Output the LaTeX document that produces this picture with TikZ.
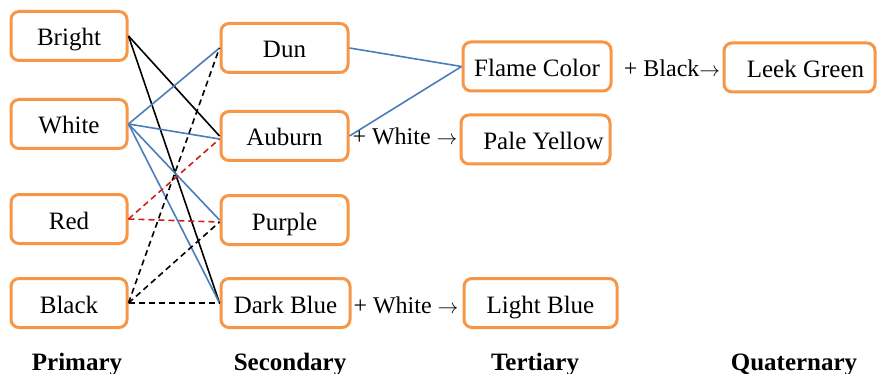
\documentclass[tikz,border=0pt]{standalone}
\usepackage{fontspec}
\setmainfont{Liberation Serif}
\definecolor{boxorange}{RGB}{247,150,70}
\definecolor{mixblue}{RGB}{74,126,187}
\definecolor{mixred}{RGB}{200,35,25}
\newcommand{\mixarrow}{{\fontsize{20}{22}\selectfont\ensuremath{\rightarrow}}}
\tikzset{
  colbox/.style={draw=boxorange, line width=3pt, rounded corners=8pt, fill=white,
    inner sep=0pt, minimum height=49pt, text height=22pt, text depth=2pt,
    font=\fontsize{25}{28}\selectfont},
  tier/.style={font=\bfseries\fontsize{25}{28}\selectfont, anchor=base, inner sep=0pt},
  mixtext/.style={font=\fontsize{24}{27}\selectfont, anchor=base, inner sep=0pt},
  bluemix/.style={draw=mixblue, line width=1.6pt},
  blackmix/.style={draw=black, line width=1.6pt},
  reddash/.style={draw=mixred, line width=1.6pt, dash pattern=on 6pt off 4pt},
  blackdash/.style={draw=black, line width=1.6pt, dash pattern=on 6pt off 4pt},
}
\begin{document}
\begin{tikzpicture}[x=1pt, y=-1pt]
\useasboundingbox (0,0) rectangle (877,374);

% primary colours
\node[colbox, minimum width=116pt] (bright) at (69,36) {Bright};
\node[colbox, minimum width=116pt] (white) at (69,124) {White};
\node[colbox, minimum width=116pt] (red) at (69,219) {Red};
\node[colbox, minimum width=116pt] (black) at (69,303) {Black};

% secondary colours
\node[colbox, minimum width=127pt] (dun) at (284.5,48) {Dun};
\node[colbox, minimum width=127pt] (auburn) at (284.5,136) {Auburn};
\node[colbox, minimum width=127pt] (purple) at (284.5,220) {Purple};
\node[colbox, minimum width=129pt] (darkblue) at (285.5,303) {Dark Blue};

% tertiary colours
\node[colbox, minimum width=148pt] (flame) at (537,66.5) {Flame Color};
\node[colbox, minimum width=149pt] (pale) at (535.5,139.5) {\hspace*{16pt}Pale Yellow};
\node[colbox, minimum width=153pt] (light) at (540.5,303) {Light Blue};

% quaternary colour
\node[colbox, minimum width=151pt] (leek) at (799.5,67.5) {\hspace*{12pt}Leek Green};

% mixing lines: primary to secondary
\draw[blackmix] (bright.east) -- (auburn.west);
\draw[blackmix] (bright.east) -- (darkblue.west);
\draw[bluemix] (white.east) -- (dun.west);
\draw[bluemix] (white.east) -- ([yshift=-3pt]auburn.west);
\draw[bluemix] (white.east) -- (purple.west);
\draw[bluemix] (white.east) -- (darkblue.west);
\draw[reddash] (red.east) -- ([yshift=-3pt]auburn.west);
\draw[reddash] (red.east) -- ([yshift=-2pt]purple.west);
\draw[blackdash] (black.east) -- (dun.west);
\draw[blackdash] (black.east) -- ([yshift=-2pt]purple.west);
\draw[blackdash] (black.east) -- (darkblue.west);

% secondary to tertiary
\draw[bluemix] (dun.east) -- (flame.west);
\draw[bluemix] (auburn.east) -- (flame.west);

% mixing annotations
\node[mixtext] (addwhite1) at (405,145) {+ White \mixarrow};
\node[mixtext] (addwhite2) at (406,313) {+ White \mixarrow};
\node[mixtext] (addblack) at (672,77) {+ Black\mixarrow};

% tier captions
\node[tier] (primary) at (77,370) {Primary};
\node[tier] (secondary) at (290,370) {Secondary};
\node[tier] (tertiary) at (535,370) {Tertiary};
\node[tier] (quaternary) at (794,370) {Quaternary};
\end{tikzpicture}
\end{document}
